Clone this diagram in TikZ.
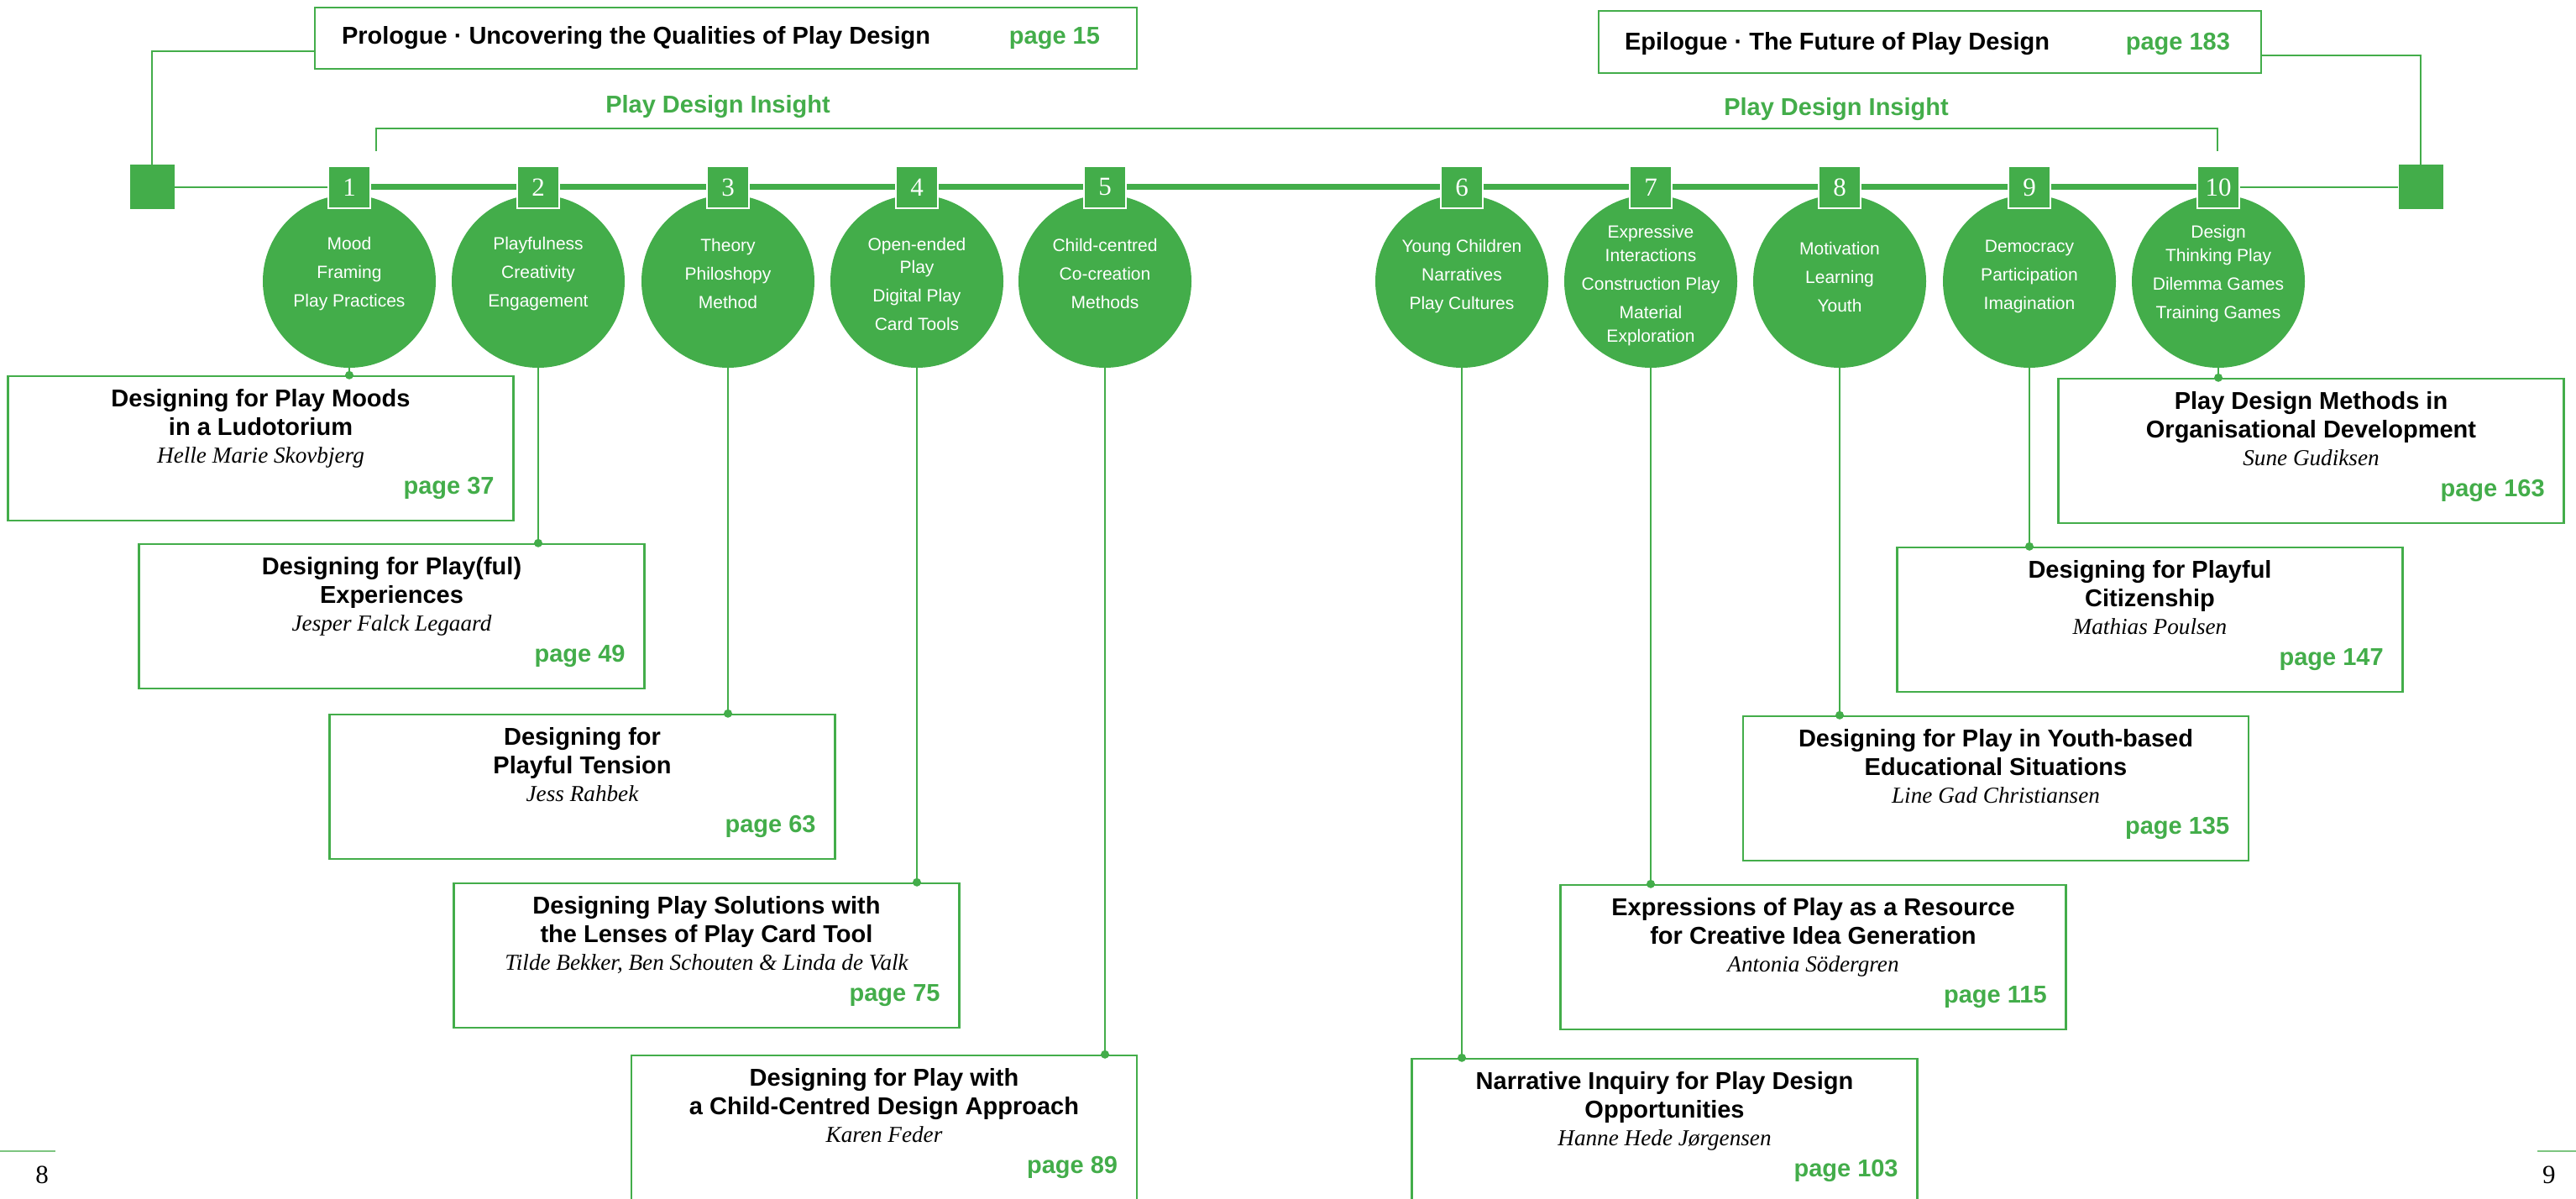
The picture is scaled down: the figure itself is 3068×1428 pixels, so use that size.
\documentclass[tikz,border=0pt]{standalone}
\usepackage{fontspec}
\setmainfont{Liberation Serif}
\setsansfont{Liberation Sans}
\usetikzlibrary{backgrounds}
\definecolor{pdgreen}{RGB}{67,173,74}
\definecolor{pdlight}{RGB}{125,197,128}

\tikzstyle{chapter}=[draw=pdgreen, line width=1.2pt, inner sep=0pt, minimum width=301pt, minimum height=86pt]

\begin{document}
\begin{tikzpicture}[x=0.5pt, y=-0.5pt,
theme/.style={circle, fill=pdgreen, minimum size=103pt, inner sep=0pt},
keywords/.style={text=white, align=center, font=\sffamily\fontsize{10.5}{17}\selectfont},
number/.style={fill=pdgreen, draw=white, line width=1pt, minimum size=25pt, inner sep=0pt,
               text=white, font=\fontsize{15.5}{18}\selectfont},
endsquare/.style={fill=pdgreen, minimum size=26.5pt, inner sep=0pt},
headline/.style={anchor=base west, font=\sffamily\bfseries\fontsize{14.5}{17}\selectfont},
title/.style={anchor=base, align=center, font=\sffamily\bfseries\fontsize{14.5}{17}\selectfont},
author/.style={anchor=base, font=\itshape\fontsize{13.6}{16}\selectfont},
page/.style={anchor=base east, text=pdgreen, font=\sffamily\bfseries\fontsize{14.5}{17}\selectfont},
insight/.style={anchor=base, text=pdgreen, font=\sffamily\bfseries\fontsize{14.5}{17}\selectfont},
folio/.style={font=\fontsize{15.5}{18}\selectfont},
link/.style={draw=pdgreen, line width=1pt}]

\useasboundingbox (0,0) rectangle (3068,1428);

% prologue and epilogue
\node[draw=pdgreen, line width=1.2pt, minimum width=489.5pt, minimum height=36.5pt] (pro) at (864.5,45.5) {};
\node[headline] (prot) at (400,53) {Prologue · Uncovering the Qualities of Play Design};
\node[page] (prop) at (1317,53) {page 15};
\node[draw=pdgreen, line width=1.2pt, minimum width=394.5pt, minimum height=37pt] (epi) at (2298.5,50) {};
\node[headline] (epit) at (1928,60) {Epilogue · The Future of Play Design};
\node[page] (epip) at (2663,60) {page 183};

\node[endsquare] (sqL) at (181,223) {};
\node[endsquare] (sqR) at (2883,223) {};

\node[insight] (ins1) at (855,135) {Play Design Insight};
\node[insight] (ins2) at (2187,138) {Play Design Insight};
\coordinate (insL) at (448,180);
\coordinate (insR) at (2641,180);

% themes
\node[theme] (c1) at (416,335) {};
\node[theme] (c2) at (641,335) {};
\node[theme] (c3) at (867,335) {};
\node[theme] (c4) at (1092,335) {};
\node[theme] (c5) at (1316,335) {};
\node[theme] (c6) at (1741,335) {};
\node[theme] (c7) at (1966,335) {};
\node[theme] (c8) at (2191,335) {};
\node[theme] (c9) at (2417,335) {};
\node[theme] (c10) at (2642,335) {};

\node[keywords] (k1) at (416,326) {Mood\\Framing\\Play Practices};
\node[keywords] (k2) at (641,326) {Playfulness\\Creativity\\Engagement};
\node[keywords] (k3) at (867,326) {Theory\\Philoshopy\\Method};
\node[keywords] (k4) at (1092,338.5) {Open-ended\\[-3.5pt]Play\\Digital Play\\Card Tools};
\node[keywords] (k5) at (1316,326) {Child-centred\\Co-creation\\Methods};
\node[keywords] (k6) at (1741,329.5) {Young Children\\Narratives\\Play Cultures};
\node[keywords] (k7) at (1966,340.5) {Expressive\\[-3pt]Interactions\\Construction Play\\Material\\[-3pt]Exploration};
\node[keywords] (k8) at (2191,329.5) {Motivation\\Learning\\Youth};
\node[keywords] (k9) at (2417,329.5) {Democracy\\Participation\\Imagination};
\node[keywords] (k10) at (2642,326.5) {Design\\[-3pt]Thinking Play\\Dilemma Games\\Training Games};

\node[number] (n1) at (416,223) {1};
\node[number] (n2) at (641,223) {2};
\node[number] (n3) at (867,223) {3};
\node[number] (n4) at (1092,223) {4};
\node[number] (n5) at (1316,223) {5};
\node[number] (n6) at (1741,223) {6};
\node[number] (n7) at (1966,223) {7};
\node[number] (n8) at (2191,223) {8};
\node[number] (n9) at (2417,223) {9};
\node[number] (n10) at (2642,223) {10};

% chapters
\node[chapter] (b1) at (310.5,534) {};
\node[title] (b1t) at ([yshift=-36pt]b1.north) {Designing for Play Moods\\in a Ludotorium};
\node[author] (b1a) at ([yshift=-52.5pt]b1.north) {Helle Marie Skovbjerg};
\node[page] (b1p) at ([xshift=-8.5pt,yshift=-71pt]b1.north east) {page 37};

\node[chapter] (b2) at (466.5,734) {};
\node[title] (b2t) at ([yshift=-36pt]b2.north) {Designing for Play(ful)\\Experiences};
\node[author] (b2a) at ([yshift=-52.5pt]b2.north) {Jesper Falck Legaard};
\node[page] (b2p) at ([xshift=-8.5pt,yshift=-71pt]b2.north east) {page 49};

\node[chapter] (b3) at (693.5,937) {};
\node[title] (b3t) at ([yshift=-36pt]b3.north) {Designing for\\Playful Tension};
\node[author] (b3a) at ([yshift=-52.5pt]b3.north) {Jess Rahbek};
\node[page] (b3p) at ([xshift=-8.5pt,yshift=-71pt]b3.north east) {page 63};

\node[chapter] (b4) at (841.5,1138) {};
\node[title] (b4t) at ([yshift=-36pt]b4.north) {Designing Play Solutions with\\the Lenses of Play Card Tool};
\node[author] (b4a) at ([yshift=-52.5pt]b4.north) {Tilde Bekker, Ben Schouten \& Linda de Valk};
\node[page] (b4p) at ([xshift=-8.5pt,yshift=-71pt]b4.north east) {page 75};

\node[chapter] (b5) at (1053,1343) {};
\node[title] (b5t) at ([yshift=-36pt]b5.north) {Designing for Play with\\a Child-Centred Design Approach};
\node[author] (b5a) at ([yshift=-52.5pt]b5.north) {Karen Feder};
\node[page] (b5p) at ([xshift=-8.5pt,yshift=-71pt]b5.north east) {page 89};

\node[chapter] (b6) at (1982.5,1347) {};
\node[title] (b6t) at ([yshift=-36pt]b6.north) {Narrative Inquiry for Play Design\\Opportunities};
\node[author] (b6a) at ([yshift=-52.5pt]b6.north) {Hanne Hede Jørgensen};
\node[page] (b6p) at ([xshift=-8.5pt,yshift=-71pt]b6.north east) {page 103};

\node[chapter] (b7) at (2159.5,1140) {};
\node[title] (b7t) at ([yshift=-36pt]b7.north) {Expressions of Play as a Resource\\for Creative Idea Generation};
\node[author] (b7a) at ([yshift=-52.5pt]b7.north) {Antonia Södergren};
\node[page] (b7p) at ([xshift=-8.5pt,yshift=-71pt]b7.north east) {page 115};

\node[chapter] (b8) at (2377,939) {};
\node[title] (b8t) at ([yshift=-36pt]b8.north) {Designing for Play in Youth-based\\Educational Situations};
\node[author] (b8a) at ([yshift=-52.5pt]b8.north) {Line Gad Christiansen};
\node[page] (b8p) at ([xshift=-8.5pt,yshift=-71pt]b8.north east) {page 135};

\node[chapter] (b9) at (2560.5,738) {};
\node[title] (b9t) at ([yshift=-36pt]b9.north) {Designing for Playful\\Citizenship};
\node[author] (b9a) at ([yshift=-52.5pt]b9.north) {Mathias Poulsen};
\node[page] (b9p) at ([xshift=-8.5pt,yshift=-71pt]b9.north east) {page 147};

\node[chapter] (b10) at (2752.5,537) {};
\node[title] (b10t) at ([yshift=-36pt]b10.north) {Play Design Methods in\\Organisational Development};
\node[author] (b10a) at ([yshift=-52.5pt]b10.north) {Sune Gudiksen};
\node[page] (b10p) at ([xshift=-8.5pt,yshift=-71pt]b10.north east) {page 163};

% folios
\coordinate (f8a) at (0,1371);
\coordinate (f8b) at (66,1371);
\coordinate (f9a) at (3022,1371);
\coordinate (f9b) at (3068,1371);
\node[folio, anchor=base east] (p8) at (65,1409) {8};
\node[folio, anchor=base west] (p9) at (3021,1409) {9};

\begin{pgfonlayer}{background}
\draw[link] ([yshift=-8pt]pro.west) -| (sqL.north);
\draw[link] ([yshift=-8pt]epi.east) -| (sqR.north);
\draw[link] (insL) -- ++(0,-27) -| (insR);
\draw[link] (sqL) -- (n1);
\draw[pdgreen, line width=3.5pt] (n1) -- (n10);
\draw[link] (n10) -- (sqR);
\draw[link] (c1.south) -- (c1.south |- b1.north);
\draw[link] (c2.south) -- (c2.south |- b2.north);
\draw[link] (c3.south) -- (c3.south |- b3.north);
\draw[link] (c4.south) -- (c4.south |- b4.north);
\draw[link] (c5.south) -- (c5.south |- b5.north);
\draw[link] (c6.south) -- (c6.south |- b6.north);
\draw[link] (c7.south) -- (c7.south |- b7.north);
\draw[link] (c8.south) -- (c8.south |- b8.north);
\draw[link] (c9.south) -- (c9.south |- b9.north);
\draw[link] (c10.south) -- (c10.south |- b10.north);
\end{pgfonlayer}
\fill[pdgreen] (c1.south |- b1.north) circle (2.5pt);
\fill[pdgreen] (c2.south |- b2.north) circle (2.5pt);
\fill[pdgreen] (c3.south |- b3.north) circle (2.5pt);
\fill[pdgreen] (c4.south |- b4.north) circle (2.5pt);
\fill[pdgreen] (c5.south |- b5.north) circle (2.5pt);
\fill[pdgreen] (c6.south |- b6.north) circle (2.5pt);
\fill[pdgreen] (c7.south |- b7.north) circle (2.5pt);
\fill[pdgreen] (c8.south |- b8.north) circle (2.5pt);
\fill[pdgreen] (c9.south |- b9.north) circle (2.5pt);
\fill[pdgreen] (c10.south |- b10.north) circle (2.5pt);
\draw[pdlight, line width=1pt] (f8a) -- (f8b);
\draw[pdlight, line width=1pt] (f9a) -- (f9b);

\end{tikzpicture}
\end{document}
